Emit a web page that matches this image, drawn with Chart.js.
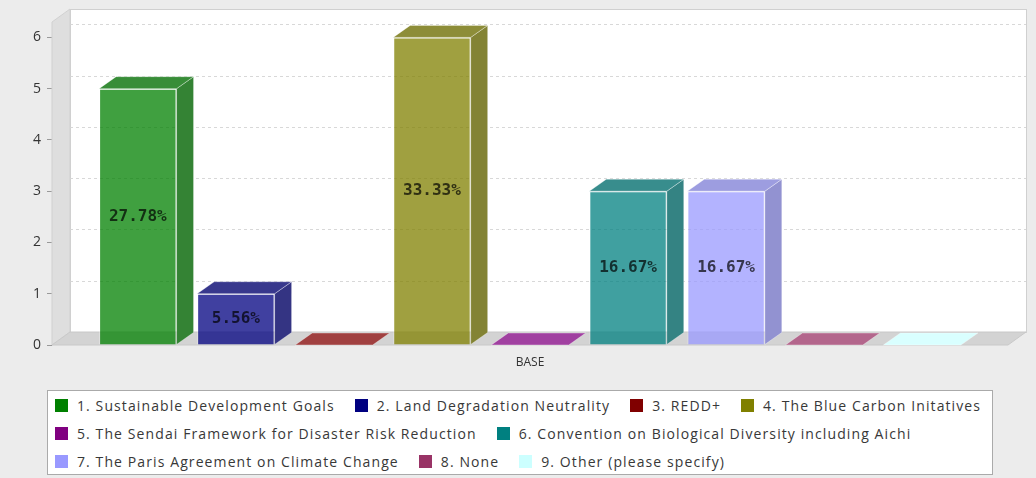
<!DOCTYPE html>
<html>
<head>
<meta charset="utf-8">
<script src="https://cdn.jsdelivr.net/npm/chart.js@4.4.0/dist/chart.umd.min.js"></script>
<style>
  body { margin: 0; background: #ececec; font-family: "Open Sans", sans-serif; }
  #wrap { position: relative; width: 1036px; height: 478px; }
  #legenda { position: absolute; left: 47px; top: 390px; width: 946px; height: 85px; box-sizing: border-box;
    border: 1px solid #aaa; background: #fff; padding: 0 0 0 7px; display: flex; flex-wrap: wrap; align-content: flex-start; column-gap: 20px; }
  .item { display: flex; align-items: center; height: 28px; font-size: 14px; letter-spacing: 1.1px; color: #383838; white-space: nowrap; }
  .sw { width: 13px; height: 13px; margin-right: 9px; }
</style>
</head>
<body>
<div id="wrap">
  <canvas id="grafico" width="1036" height="478"></canvas>
  <div id="legenda"></div>
</div>
<script>
// dados
const categorias = ['BASE'];
const series = [
  '1. Sustainable Development Goals',
  '2. Land Degradation Neutrality',
  '3. REDD+',
  '4. The Blue Carbon Initatives',
  '5. The Sendai Framework for Disaster Risk Reduction',
  '6. Convention on Biological Diversity including Aichi',
  '7. The Paris Agreement on Climate Change',
  '8. None',
  '9. Other (please specify)'
];
const valores = [5, 1, 0, 6, 0, 3, 3, 0, 0];
const cores = ['#008000', '#000080', '#800000', '#808000', '#800080', '#008080', '#9999ff', '#993366', '#ccffff'];
const ticksY = [0, 1, 2, 3, 4, 5, 6];

const total = valores.reduce((a, b) => a + b, 0);
const D = { x: 18, y: -13 };   // profundidade das paredes
const B = { x: 17, y: -12 };   // profundidade das barras

function rgb(hex) {
  const n = parseInt(hex.slice(1), 16);
  return [n >> 16, (n >> 8) & 255, n & 255];
}
function frente(hex, a) {
  const c = rgb(hex);
  return 'rgba(' + c.join(',') + ',' + (a || 0.75) + ')';
}
function tom(hex, k) {
  const c = rgb(hex).map(v => Math.round((v * 0.75 + 255 * 0.25) * k));
  return 'rgb(' + c.join(',') + ')';
}
function poly(ctx, pts, fill, stroke) {
  ctx.beginPath();
  ctx.moveTo(pts[0][0], pts[0][1]);
  for (let i = 1; i < pts.length; i++) ctx.lineTo(pts[i][0], pts[i][1]);
  ctx.closePath();
  ctx.fillStyle = fill;
  ctx.fill();
  if (stroke) { ctx.strokeStyle = stroke; ctx.lineWidth = 1; ctx.stroke(); }
}

// paredes, chão e faces 3D
const caixa3d = {
  id: 'caixa3d',
  beforeDatasetsDraw(chart) {
    const { ctx, chartArea: a, scales: { y } } = chart;
    ctx.save();
    ctx.fillStyle = '#fff';
    ctx.fillRect(a.left + D.x, a.top + D.y, a.right - a.left, a.bottom - a.top);
    ctx.strokeStyle = '#d0d0d0';
    ctx.lineWidth = 1;
    ctx.strokeRect(Math.round(a.left + D.x) + 0.5, Math.round(a.top + D.y) + 0.5, a.right - a.left, a.bottom - a.top);
    ctx.setLineDash([3, 3]);
    ctx.strokeStyle = '#d8d8d8';
    ticksY.forEach(v => {
      if (v === 0) return;
      const py = Math.round(y.getPixelForValue(v) + D.y) + 0.5;
      ctx.beginPath();
      ctx.moveTo(a.left + D.x, py);
      ctx.lineTo(a.right + D.x, py);
      ctx.stroke();
    });
    ctx.setLineDash([]);
    poly(ctx, [[a.left, a.bottom], [a.left, a.top], [a.left + D.x, a.top + D.y], [a.left + D.x, a.bottom + D.y]], '#dedede', '#d0d0d0');
    poly(ctx, [[a.left, a.bottom], [a.right, a.bottom], [a.right + D.x, a.bottom + D.y], [a.left + D.x, a.bottom + D.y]], '#d3d3d3', '#c8c8c8');
    ctx.restore();
  },
  afterDatasetsDraw(chart) {
    const ctx = chart.ctx;
    ctx.save();
    chart.data.datasets.forEach((ds, i) => {
      const bar = chart.getDatasetMeta(i).data[0];
      const { x, y: topo, base, width } = bar.getProps(['x', 'y', 'base', 'width'], true);
      const l = x - width / 2, r = x + width / 2;
      const cor = cores[i];
      const borda = 'rgba(255,255,255,0.35)';
      if (base - topo > 0.5) {
        poly(ctx, [[r, base], [r, topo], [r + B.x, topo + B.y], [r + B.x, base + B.y]], tom(cor, 0.82), borda);
        poly(ctx, [[l, topo], [r, topo], [r + B.x, topo + B.y], [l + B.x, topo + B.y]], tom(cor, 0.88), borda);
      } else {
        poly(ctx, [[l, topo], [r, topo], [r + B.x, topo + B.y], [l + B.x, topo + B.y]], tom(cor, 1), borda);
      }
      if (valores[i] > 0) {
        ctx.font = 'bold 16px "DejaVu Sans Mono"';
        ctx.fillStyle = tom(cor, 0.3);
        ctx.textAlign = 'center';
        ctx.textBaseline = 'middle';
        ctx.fillText((valores[i] / total * 100).toFixed(2) + '%', x, (topo + base) / 2);
      }
    });
    ctx.restore();
  }
};

Chart.defaults.font.family = '"Open Sans", sans-serif';

new Chart(document.getElementById('grafico').getContext('2d'), {
  type: 'bar',
  data: {
    labels: categorias,
    datasets: series.map((nome, i) => ({
      label: nome,
      data: [valores[i]],
      backgroundColor: frente(cores[i]),
      borderColor: 'rgba(255,255,255,0.35)',
      borderWidth: 1,
      categoryPercentage: 0.923,
      barPercentage: 0.79
    }))
  },
  options: {
    responsive: false,
    animation: false,
    layout: { padding: { top: 22, right: 28, bottom: 103, left: 0 } },
    scales: {
      x: {
        grid: { display: false, drawTicks: false },
        border: { display: false },
        ticks: { color: '#333', font: { size: 12 }, padding: 10 },
        afterFit: ax => { ax.height = 30; }
      },
      y: {
        min: 0,
        max: 6.3,
        afterBuildTicks: ax => { ax.ticks = ticksY.map(v => ({ value: v })); },
        afterFit: ax => { ax.width = 52; },
        grid: { drawOnChartArea: false, drawTicks: true, tickLength: 5, color: '#999' },
        border: { display: false },
        ticks: { color: '#333', font: { size: 14 }, padding: 6 }
      }
    },
    plugins: {
      legend: { display: false },
      tooltip: { enabled: false }
    }
  },
  plugins: [caixa3d]
});

// Legenda
const leg = document.getElementById('legenda');
series.forEach((nome, i) => {
  const it = document.createElement('div');
  it.className = 'item';
  it.innerHTML = '<span class="sw" style="background:' + cores[i] + '"></span>' + nome;
  leg.appendChild(it);
});
</script>
</body>
</html>
